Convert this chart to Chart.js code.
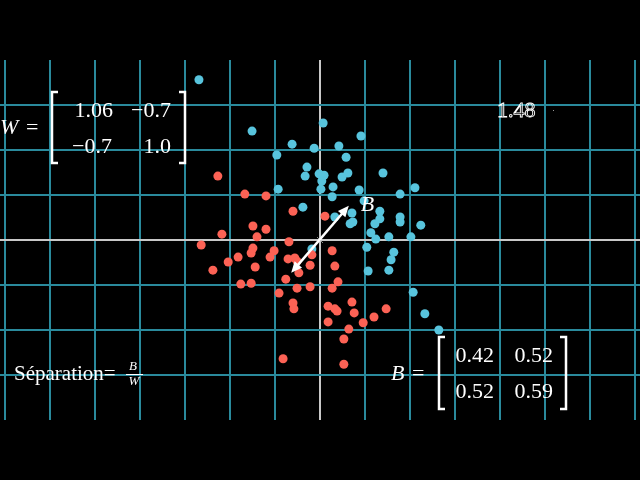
<!DOCTYPE html>
<html>
<head>
<meta charset="utf-8">
<script src="https://cdn.jsdelivr.net/npm/chart.js@4"></script>
<style>
  html, body { margin: 0; padding: 0; background: #000; }
  canvas { display: block; }
</style>
</head>
<body>
<canvas id="chart" width="640" height="480"></canvas>
<script>
// ========== 1. Data (plane units, 1 unit = one grid square) ==========
const redX = [-2.27, -1.67, -1.20, -0.60, -1.49, -1.20, -2.18, -1.40, -2.64, -0.69,
              -1.49, -1.53, -1.02, -1.82, -2.04, -1.11, -0.71, -0.56, -0.51, -0.22,
              -0.18, 0.27, 0.11, -1.44, -2.38, -0.47, -0.76, -1.76, -1.53, -0.91,
              -0.51, -0.22, -0.60, -0.58, -0.82, 0.33, 0.40, 0.27, 0.18, 0.71,
              0.33, 0.38, 0.76, 0.96, 1.20, 1.47, 0.18, 0.64, 0.53, 0.53];
const redY = [1.42, 1.02, 0.98, 0.64, 0.31, 0.24, 0.13, 0.07, -0.11, -0.04,
              -0.18, -0.29, -0.24, -0.38, -0.49, -0.38, -0.42, -0.40, -0.47, -0.56,
              -0.33, -0.24, 0.53, -0.60, -0.67, -0.73, -0.87, -0.98, -0.96, -1.18,
              -1.07, -1.04, -1.40, -1.53, -2.64, -0.58, -0.93, -1.07, -1.47, -1.38,
              -1.53, -1.58, -1.62, -1.84, -1.71, -1.53, -1.82, -1.98, -2.20, -2.76];

const blueX = [-2.69, -1.51, -0.62, -0.13, -0.96, -0.29, -0.33, -0.02, 0.09, 0.04,
               -0.93, -0.38, 0.07, 0.91, 0.42, 0.58, 0.62, 0.49, 1.40, 0.29,
               0.02, 0.87, 2.11, 1.78, 0.27, 0.98, 0.33, 0.71, 1.33, 0.67,
               0.73, 1.22, 1.33, 1.78, 1.78, 2.24, 1.13, 1.24, 1.53, 2.02,
               1.04, 1.64, 1.58, 1.07, 1.53, 2.07, 2.33, 2.64, -0.18];
const blueY = [3.56, 2.42, 2.13, 2.04, 1.89, 1.62, 1.42, 1.47, 1.44, 1.31,
               1.13, 0.73, 2.60, 2.31, 2.09, 1.84, 1.49, 1.40, 1.49, 1.18,
               1.13, 1.11, 1.16, 1.02, 0.96, 0.87, 0.51, 0.60, 0.64, 0.36,
               0.40, 0.36, 0.47, 0.51, 0.40, 0.33, 0.16, 0.02, 0.07, 0.07,
               -0.16, -0.27, -0.44, -0.69, -0.67, -1.16, -1.64, -2.00, -0.20];

// double arrow through the origin: [tail, head]
const arrowX = [-0.64, 0.64];
const arrowY = [-0.73, 0.76];

const matrixW = [['1.06', '\u22120.7'], ['\u22120.7', '1.0']];
const matrixB = [['0.42', '0.52'], ['0.52', '0.59']];
const ratioLabel = '1.48';

const RED = '#FC6255';
const BLUE = '#58C4DD';
const GRID = '#2a8a9c';
const AXIS = '#c8c8c8';
const SERIF = '"Liberation Serif", "DejaVu Serif", serif';

// ========== 2. Helpers ==========
function toPoints(xs, ys) {
  return xs.map((x, i) => ({ x: x, y: ys[i] }));
}

function bracket(ctx, x, top, bottom, dir) {
  // dir = 1 for a left bracket, -1 for a right one
  ctx.beginPath();
  ctx.moveTo(x + dir * 6, top);
  ctx.lineTo(x, top);
  ctx.lineTo(x, bottom);
  ctx.lineTo(x + dir * 6, bottom);
  ctx.stroke();
}

function arrowHead(ctx, fromX, fromY, toX, toY) {
  const a = Math.atan2(toY - fromY, toX - fromX);
  const len = 12, w = 0.42;
  ctx.beginPath();
  ctx.moveTo(toX, toY);
  ctx.lineTo(toX - len * Math.cos(a - w), toY - len * Math.sin(a - w));
  ctx.lineTo(toX - len * Math.cos(a + w), toY - len * Math.sin(a + w));
  ctx.closePath();
  ctx.fill();
}

// ========== 3. Plugins: background, arrow, text ==========
const blackBg = {
  id: 'blackBg',
  beforeDraw(chart) {
    const ctx = chart.ctx;
    ctx.save();
    ctx.fillStyle = '#000';
    ctx.fillRect(0, 0, chart.width, chart.height);
    ctx.restore();
  }
};

const arrowPlugin = {
  id: 'arrowPlugin',
  afterDatasetsDraw(chart) {
    const ctx = chart.ctx, sx = chart.scales.x, sy = chart.scales.y;
    const x0 = sx.getPixelForValue(arrowX[0]), y0 = sy.getPixelForValue(arrowY[0]);
    const x1 = sx.getPixelForValue(arrowX[1]), y1 = sy.getPixelForValue(arrowY[1]);
    const cx = sx.getPixelForValue(0), cy = sy.getPixelForValue(0);
    ctx.save();
    // little cross at the origin
    ctx.strokeStyle = '#888';
    ctx.lineWidth = 1;
    ctx.beginPath();
    ctx.moveTo(cx - 3, cy - 3); ctx.lineTo(cx + 3, cy + 3);
    ctx.moveTo(cx + 3, cy - 3); ctx.lineTo(cx - 3, cy + 3);
    ctx.stroke();
    ctx.strokeStyle = '#fff';
    ctx.fillStyle = '#fff';
    ctx.lineWidth = 2.5;
    ctx.beginPath();
    ctx.moveTo(x0 + (x1 - x0) * 0.1, y0 + (y1 - y0) * 0.1);
    ctx.lineTo(x1 - (x1 - x0) * 0.1, y1 - (y1 - y0) * 0.1);
    ctx.stroke();
    arrowHead(ctx, x0, y0, x1, y1);
    arrowHead(ctx, x1, y1, x0, y0);
    ctx.font = 'italic 22px ' + SERIF;
    ctx.textBaseline = 'middle';
    ctx.fillText('B', x1 + 12, y1 - 1);
    ctx.restore();
  }
};

const textPlugin = {
  id: 'textPlugin',
  afterDraw(chart) {
    const ctx = chart.ctx;
    ctx.save();
    ctx.fillStyle = '#fff';
    ctx.strokeStyle = '#fff';
    ctx.textBaseline = 'middle';

    // W matrix
    ctx.font = 'italic 22px ' + SERIF;
    ctx.textAlign = 'left';
    ctx.fillText('W', 0, 128);
    ctx.font = '22px ' + SERIF;
    ctx.fillText('=', 26, 128);
    ctx.lineWidth = 2.5;
    bracket(ctx, 52, 92, 163, 1);
    bracket(ctx, 185, 92, 163, -1);
    ctx.textAlign = 'right';
    ctx.fillText(matrixW[0][0], 113, 111);
    ctx.fillText(matrixW[0][1], 171, 111);
    ctx.fillText(matrixW[1][0], 112, 147);
    ctx.fillText(matrixW[1][1], 171, 147);

    // B matrix
    ctx.textAlign = 'left';
    ctx.font = 'italic 22px ' + SERIF;
    ctx.fillText('B', 391, 374);
    ctx.font = '22px ' + SERIF;
    ctx.fillText('=', 412, 374);
    bracket(ctx, 439, 337, 409, 1);
    bracket(ctx, 566, 337, 409, -1);
    ctx.textAlign = 'right';
    ctx.fillText(matrixB[0][0], 494, 356);
    ctx.fillText(matrixB[0][1], 553, 356);
    ctx.fillText(matrixB[1][0], 494, 392);
    ctx.fillText(matrixB[1][1], 553, 392);

    // Separation = B / W
    ctx.textAlign = 'left';
    ctx.font = '21px ' + SERIF;
    ctx.fillText('S\u00e9paration=', 14, 374);
    ctx.font = 'italic 13px ' + SERIF;
    ctx.textAlign = 'center';
    ctx.fillText('B', 133, 367);
    ctx.fillText('W', 134, 382);
    ctx.lineWidth = 1;
    ctx.beginPath();
    ctx.moveTo(126, 374.5);
    ctx.lineTo(143, 374.5);
    ctx.stroke();

    // ratio value (outlined look)
    ctx.textAlign = 'left';
    ctx.font = '22px ' + SERIF;
    ctx.lineWidth = 0.9;
    ctx.strokeText(ratioLabel, 497, 111);
    ctx.fillStyle = '#999';
    ctx.fillRect(553, 110, 1, 1);
    ctx.restore();
  }
};

// ========== 4. Chart ==========
const half = 320 / 45;

function planeAxis(min, max) {
  return {
    type: 'linear',
    min: min,
    max: max,
    // one grid line per whole unit strictly inside the frame
    afterBuildTicks: (scale) => {
      const ticks = [];
      for (let v = Math.ceil(min); v <= Math.floor(max); v++) {
        if (v > min && v < max) ticks.push({ value: v });
      }
      scale.ticks = ticks;
    },
    ticks: { display: false, stepSize: 1 },
    grid: {
      drawTicks: false,
      lineWidth: 2,
      color: (c) => (c.tick && c.tick.value === 0 ? AXIS : GRID)
    },
    border: { display: false }
  };
}

new Chart(document.getElementById('chart'), {
  type: 'scatter',
  data: {
    datasets: [
      {
        label: 'red',
        data: toPoints(redX, redY),
        backgroundColor: RED,
        borderWidth: 0,
        pointRadius: 4.5
      },
      {
        label: 'blue',
        data: toPoints(blueX, blueY),
        backgroundColor: BLUE,
        borderWidth: 0,
        pointRadius: 4.5
      }
    ]
  },
  options: {
    responsive: false,
    animation: false,
    layout: { autoPadding: false, padding: { top: 60, bottom: 60, left: 0, right: 0 } },
    plugins: {
      legend: { display: false },
      tooltip: { enabled: false }
    },
    scales: {
      x: planeAxis(-half, half),
      y: planeAxis(-4, 4)
    }
  },
  plugins: [blackBg, arrowPlugin, textPlugin]
});
</script>
</body>
</html>
